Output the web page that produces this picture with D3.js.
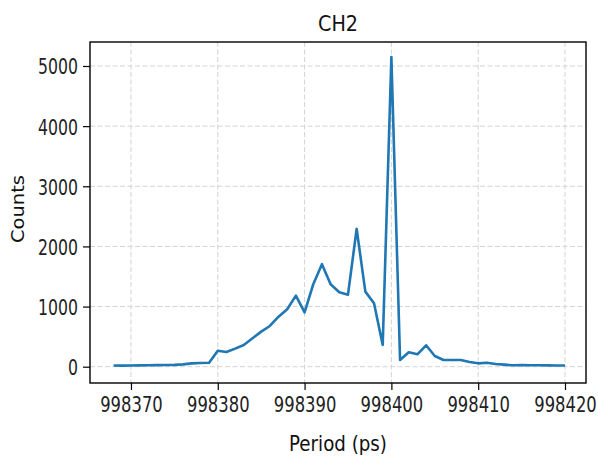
<!DOCTYPE html>
<html><head><meta charset="utf-8">
<script src="https://cdn.jsdelivr.net/npm/d3@7"></script>
<style>body{margin:0;background:#fff;} svg{display:block;}</style>
</head><body>
<script>
const periods = d3.range(998368, 998421);
const counts = [20,18,20,22,24,26,28,30,38,55,62,65,266,245,300,361,472,583,677,832,955,1181,905,1371,1704,1371,1238,1198,2291,1248,1055,361,5150,111,239,206,356,178,111,111,111,78,56,67,45,34,23,28,25,23,22,20,20];
const xTicks = [998370,998380,998390,998400,998410,998420];
const yTicks = [0,1000,2000,3000,4000,5000];
const title = "CH2", xLabel = "Period (ps)", yLabel = "Counts";

const W=598,H=463, L=90,R=586,T=42,B=383;
const svg = d3.select("body").append("svg").attr("width",W).attr("height",H);
const x = d3.scaleLinear().domain([998365.28, 998422.42]).range([L,R]);
const y = d3.scaleLinear().domain([-271, 5399]).range([B,T]);
const font = "DejaVu Sans";

// grid
svg.append("g").selectAll("line").data(xTicks).join("line")
  .attr("x1",d=>x(d)).attr("x2",d=>x(d)).attr("y1",T).attr("y2",B)
  .attr("stroke","#d3d3d3").attr("stroke-width",1).attr("stroke-dasharray","5,2.5");
svg.append("g").selectAll("line").data(yTicks).join("line")
  .attr("x1",L).attr("x2",R).attr("y1",d=>y(d)).attr("y2",d=>y(d))
  .attr("stroke","#d3d3d3").attr("stroke-width",1).attr("stroke-dasharray","5,2.5");

// line
svg.append("path").datum(periods.map((p,i)=>[p,counts[i]]))
  .attr("d", d3.line().x(d=>x(d[0])).y(d=>y(d[1])))
  .attr("fill","none").attr("stroke","#1f77b4").attr("stroke-width",2.6)
  .attr("stroke-linejoin","round");

// axes
const xa = svg.append("g").attr("transform",`translate(0,${B})`)
  .call(d3.axisBottom(x).tickValues(xTicks).tickFormat(d=>String(d)).tickSize(7).tickPadding(5));
const ya = svg.append("g").attr("transform",`translate(${L},0)`)
  .call(d3.axisLeft(y).tickValues(yTicks).tickFormat(d=>String(d)).tickSize(7).tickPadding(5));
[xa,ya].forEach(a=>{
  a.select(".domain").remove();
  a.selectAll(".tick line").attr("stroke","#000").attr("stroke-width",1.2);
  a.selectAll(".tick text").attr("font-family",font).attr("fill","#222");
});
// x tick labels: narrow glyphs stretched vertically
xa.selectAll(".tick text").attr("font-size",16.4).attr("y",0).attr("dy","0.78em")
  .attr("transform","translate(0,12) scale(1,1.34)");
ya.selectAll(".tick text").attr("font-size",22).attr("lengthAdjust","spacingAndGlyphs")
  .attr("textLength",d=>String(d).length*10).attr("dy","0.36em");

// frame
svg.append("rect").attr("x",L).attr("y",T).attr("width",R-L).attr("height",B-T)
  .attr("fill","none").attr("stroke","#000").attr("stroke-width",1.4);

// titles
svg.append("text").text(title).attr("x",338).attr("y",31).attr("text-anchor","middle")
  .attr("font-family",font).attr("font-size",22).attr("fill","#111")
  .attr("textLength",40).attr("lengthAdjust","spacingAndGlyphs");
svg.append("text").text(xLabel).attr("x",338).attr("y",451).attr("text-anchor","middle")
  .attr("font-family",font).attr("font-size",21).attr("fill","#111")
  .attr("textLength",98).attr("lengthAdjust","spacingAndGlyphs");
svg.append("text").text(yLabel).attr("transform","translate(24,209) rotate(-90)").attr("text-anchor","middle")
  .attr("font-family",font).attr("font-size",17).attr("fill","#111")
  .attr("textLength",68).attr("lengthAdjust","spacingAndGlyphs");
</script>
</body></html>
